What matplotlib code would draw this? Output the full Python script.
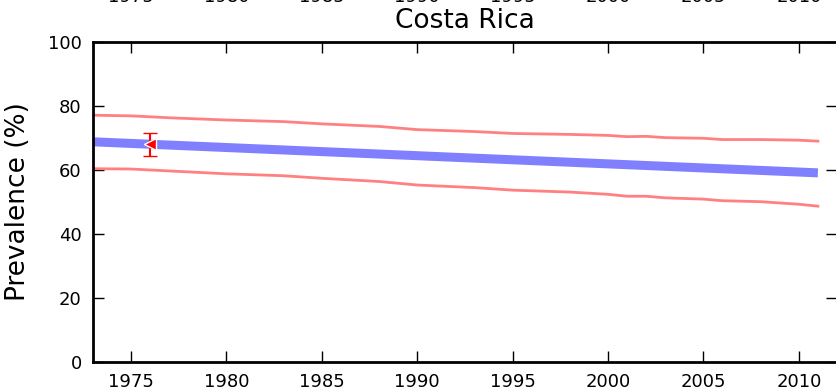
import matplotlib
matplotlib.use('Agg')
import matplotlib.pyplot as plt

# datos
years = [1973, 1975, 1977, 1980, 1983, 1985, 1988, 1990, 1993, 1995, 1998, 2000, 2001, 2002, 2003, 2005, 2006, 2008, 2010, 2011]
upper = [77.0, 76.8, 76.2, 75.5, 75.0, 74.3, 73.5, 72.5, 71.9, 71.3, 71.0, 70.7, 70.3, 70.4, 70.0, 69.8, 69.4, 69.4, 69.2, 68.9]
lower = [60.3, 60.2, 59.6, 58.7, 58.1, 57.3, 56.3, 55.2, 54.4, 53.6, 53.0, 52.3, 51.7, 51.7, 51.2, 50.8, 50.3, 50.0, 49.2, 48.6]
fit_years = [1973, 2011]
fit_vals = [68.7, 59.0]
obs_year = [1976]
obs_val = [67.9]
obs_err = [3.5]
ticks_x = [1975, 1980, 1985, 1990, 1995, 2000, 2005, 2010]

fig = plt.figure(figsize=(8.37, 3.92), dpi=100)
ax = fig.add_axes([0.111, 0.077, 0.889, 0.817])

ax.plot(years, upper, color='#ff8080', lw=2)
ax.plot(years, lower, color='#ff8080', lw=2)
ax.plot(fit_years, fit_vals, color='#8080ff', lw=6.5, solid_capstyle='butt')
ax.errorbar(obs_year, obs_val, yerr=obs_err, fmt='<', color='red', ms=9,
            mec='white', mew=1, capsize=5, elinewidth=1.5, capthick=1.5)

ax.set_xlim(1973, 2012)
ax.set_ylim(0, 100)
ax.set_xticks(ticks_x)
ax.set_yticks([0, 20, 40, 60, 80, 100])
ax.tick_params(direction='in', length=8, width=1, top=True, right=True, labelsize=13, pad=8)
for s in ax.spines.values():
    s.set_linewidth(2)
ax.set_title('Costa Rica', fontsize=19, pad=10)
ax.set_ylabel('Prevalence (%)', fontsize=19, labelpad=12)

# etiquetas cortadas de la grafica de arriba
ax2 = fig.add_axes([0.111, 1.058, 0.889, 0.5])
ax2.set_xlim(1973, 2012)
ax2.set_xticks(ticks_x)
ax2.tick_params(labelsize=13, pad=8, length=0)
ax2.set_yticks([])

fig.savefig('out.png', dpi=100)
